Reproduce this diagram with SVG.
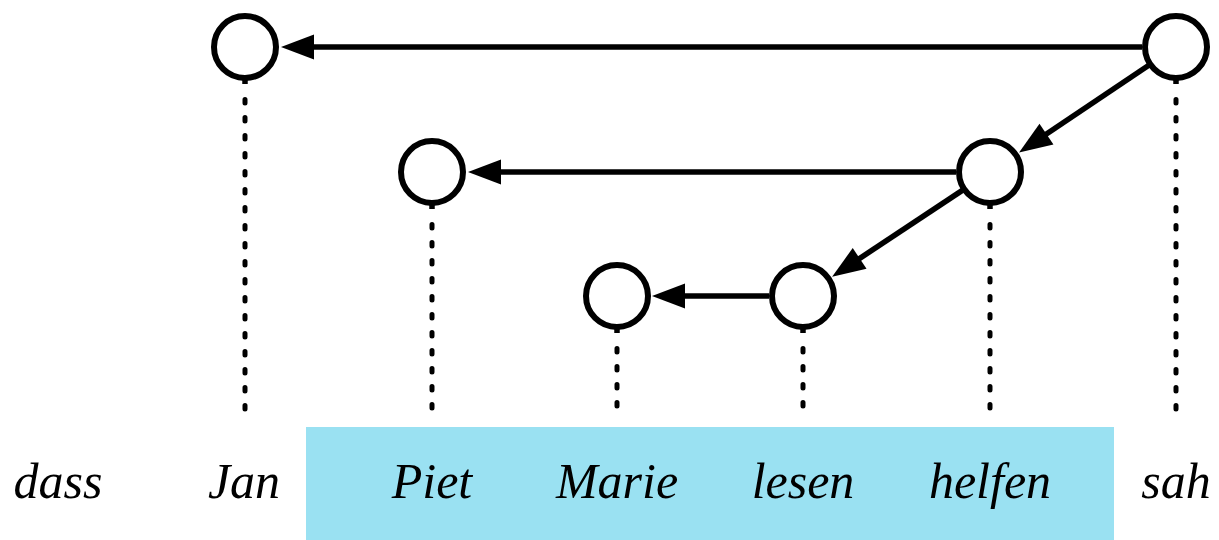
<svg xmlns="http://www.w3.org/2000/svg" width="1219" height="540" viewBox="0 0 1219 540">
<style>
.node{fill:#fff;stroke:#000;stroke-width:6}
.edge{stroke:#000;stroke-width:5.5;fill:none}
.dash{stroke:#000;stroke-width:5;stroke-dasharray:3.5 14.5;stroke-linecap:round}
.lbl{font-family:"Liberation Serif","DejaVu Serif",serif;font-style:italic;font-size:50px;text-anchor:middle;fill:#000}
</style>
<defs>
<marker id="ah" markerUnits="userSpaceOnUse" viewBox="0 -14 34 28" refX="22" refY="0" markerWidth="34" markerHeight="28" orient="auto" overflow="visible">
<path d="M0,-12.5 L33,0 L0,12.5 z" fill="#000"/>
</marker>
</defs>
<rect x="306" y="427" width="808" height="113" fill="#9ae1f2"/>
<g id="guides">
<line class="dash" x1="245" y1="99.5" x2="245" y2="419"/>
<line class="dash" x1="1176" y1="99.5" x2="1176" y2="419"/>
<line class="dash" x1="432" y1="224.5" x2="432" y2="419"/>
<line class="dash" x1="990" y1="224.5" x2="990" y2="419"/>
<line class="dash" x1="617" y1="348.5" x2="617" y2="419"/>
<line class="dash" x1="803" y1="348.5" x2="803" y2="419"/>
</g>
<g id="connectors">
<line class="edge" x1="1142" y1="47" x2="292" y2="47" marker-end="url(#ah)"/>
<line class="edge" x1="1150.3" y1="64.3" x2="1028.2" y2="146.3" marker-end="url(#ah)"/>
<line class="edge" x1="956" y1="172" x2="479" y2="172" marker-end="url(#ah)"/>
<line class="edge" x1="964.2" y1="189.1" x2="841.3" y2="270.6" marker-end="url(#ah)"/>
<line class="edge" x1="769" y1="296" x2="663" y2="296" marker-end="url(#ah)"/>
</g>
<g id="n-jan"><circle class="node" cx="245" cy="47" r="31"/><line class="edge" x1="245" y1="78" x2="245" y2="84"/></g>
<g id="n-sah"><circle class="node" cx="1176" cy="47" r="31"/><line class="edge" x1="1176" y1="78" x2="1176" y2="84"/></g>
<g id="n-piet"><circle class="node" cx="432" cy="172" r="31"/><line class="edge" x1="432" y1="203" x2="432" y2="209"/></g>
<g id="n-helfen"><circle class="node" cx="990" cy="172" r="31"/><line class="edge" x1="990" y1="203" x2="990" y2="209"/></g>
<g id="n-marie"><circle class="node" cx="617" cy="296" r="31"/><line class="edge" x1="617" y1="327" x2="617" y2="333"/></g>
<g id="n-lesen"><circle class="node" cx="803" cy="296" r="31"/><line class="edge" x1="803" y1="327" x2="803" y2="333"/></g>
<g id="labels">
<text class="lbl" x="58" y="498">dass</text>
<text class="lbl" x="244" y="498">Jan</text>
<text class="lbl" x="432" y="498">Piet</text>
<text class="lbl" x="617" y="498">Marie</text>
<text class="lbl" x="803" y="498">lesen</text>
<text class="lbl" x="990" y="498">helfen</text>
<text class="lbl" x="1176" y="498">sah</text>
</g>
</svg>
